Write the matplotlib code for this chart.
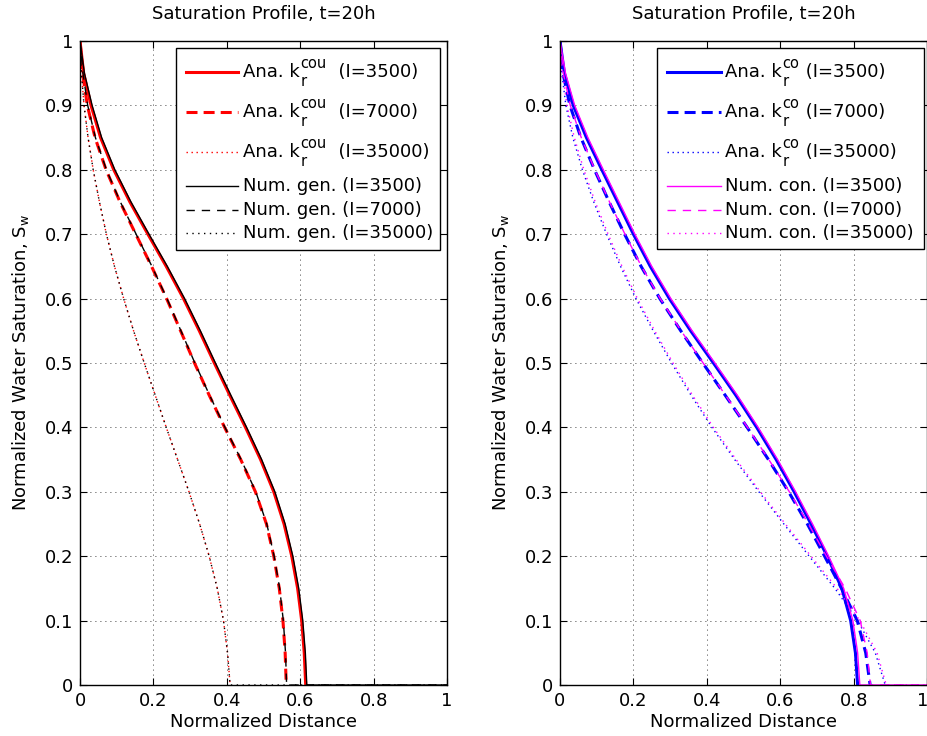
import numpy as np
import matplotlib
matplotlib.use("Agg")
import matplotlib.pyplot as plt
import matplotlib.transforms as mtransforms
from matplotlib.lines import Line2D
from matplotlib.patches import Rectangle

plt.rcParams["font.family"] = ["DejaVu Sans"]
plt.rcParams["mathtext.fontset"] = "dejavusans"

W, H = 928, 736

# saturation levels at which the profiles were read
sw = np.array([1.0, 0.95, 0.9, 0.85, 0.8, 0.75, 0.7, 0.65, 0.6, 0.55, 0.5,
               0.45, 0.4, 0.35, 0.3, 0.25, 0.2, 0.15, 0.1, 0.05, 0.0])

# left panel: analytic (kr cou) and numerical (general)
ana_cou_3500 = [0.0, 0.01, 0.03, 0.056, 0.092, 0.136, 0.185, 0.235, 0.282, 0.325, 0.366,
                0.408, 0.451, 0.492, 0.528, 0.556, 0.577, 0.593, 0.604, 0.611, 0.615]
ana_cou_7000 = [0.0, 0.007, 0.02, 0.041, 0.071, 0.109, 0.152, 0.195, 0.236, 0.274, 0.312,
                0.352, 0.394, 0.438, 0.478, 0.508, 0.528, 0.543, 0.553, 0.559, 0.562]
ana_cou_35000 = [0.0, 0.004, 0.011, 0.022, 0.036, 0.053, 0.072, 0.094, 0.119, 0.146, 0.175,
                 0.205, 0.235, 0.266, 0.297, 0.326, 0.352, 0.374, 0.391, 0.402, 0.409]
num_gen_3500 = [0.0, 0.012, 0.033, 0.059, 0.095, 0.139, 0.188, 0.238, 0.285, 0.328, 0.369,
                0.411, 0.454, 0.495, 0.531, 0.559, 0.58, 0.596, 0.607, 0.614, 0.618]
num_gen_7000 = [0.0, 0.008, 0.021, 0.042, 0.072, 0.11, 0.153, 0.196, 0.237, 0.275, 0.313,
                0.353, 0.395, 0.439, 0.479, 0.509, 0.529, 0.544, 0.554, 0.56, 0.563]
num_gen_35000 = [0.0, 0.004, 0.011, 0.022, 0.036, 0.053, 0.072, 0.094, 0.119, 0.146, 0.175,
                 0.205, 0.235, 0.266, 0.297, 0.326, 0.352, 0.374, 0.391, 0.402, 0.409]

# right panel: analytic (kr co) and numerical (conventional)
ana_co_3500 = [0.0, 0.012, 0.036, 0.072, 0.114, 0.157, 0.2, 0.246, 0.298, 0.356, 0.418,
               0.479, 0.536, 0.589, 0.638, 0.684, 0.728, 0.768, 0.792, 0.805, 0.811]
ana_co_7000 = [0.0, 0.008, 0.027, 0.057, 0.094, 0.134, 0.176, 0.221, 0.272, 0.329, 0.389,
               0.45, 0.51, 0.568, 0.623, 0.674, 0.721, 0.767, 0.81, 0.833, 0.845]
ana_co_35000 = [0.0, 0.005, 0.016, 0.035, 0.061, 0.092, 0.127, 0.165, 0.207, 0.254, 0.304,
                0.357, 0.414, 0.476, 0.542, 0.61, 0.679, 0.749, 0.811, 0.859, 0.886]
num_con_3500 = [0.0, 0.015, 0.04, 0.076, 0.118, 0.161, 0.204, 0.25, 0.302, 0.36, 0.422,
                0.483, 0.54, 0.593, 0.642, 0.688, 0.732, 0.773, 0.798, 0.811, 0.817]
num_con_7000 = [0.0, 0.009, 0.028, 0.058, 0.095, 0.135, 0.177, 0.222, 0.273, 0.33, 0.39,
                0.451, 0.511, 0.569, 0.625, 0.677, 0.726, 0.777, 0.818, 0.837, 0.846]
num_con_35000 = [0.0, 0.007, 0.019, 0.039, 0.065, 0.096, 0.131, 0.169, 0.211, 0.258, 0.308,
                 0.361, 0.418, 0.48, 0.546, 0.614, 0.684, 0.755, 0.817, 0.864, 0.889]

# legend labels: (text, superscript, subscript, rest) for the analytic rows
left_labels = [("Ana. k", "cou", "r", "  (I=3500)"),
               ("Ana. k", "cou", "r", "  (I=7000)"),
               ("Ana. k", "cou", "r", "  (I=35000)"),
               "Num. gen. (I=3500)", "Num. gen. (I=7000)", "Num. gen. (I=35000)"]
right_labels = [("Ana. k", "co", "r", " (I=3500)"),
                ("Ana. k", "co", "r", " (I=7000)"),
                ("Ana. k", "co", "r", " (I=35000)"),
                "Num. con. (I=3500)", "Num. con. (I=7000)", "Num. con. (I=35000)"]

FS = 13
FS_SCRIPT = 10.5

fig = plt.figure(figsize=(W / 100, H / 100), dpi=100)
ax1 = fig.add_axes([80 / W, 1 - 685 / H, 367 / W, 644 / H])
ax2 = fig.add_axes([560 / W, 1 - 685 / H, 367 / W, 644 / H])
renderer = fig.canvas.get_renderer()


def styles(c_ana, c_num):
    return [dict(color=c_ana, lw=2.2),
            dict(color=c_ana, lw=2.2, dashes=(3.6, 2.0)),
            dict(color=c_ana, lw=1.0, dashes=(1.0, 2.6)),
            dict(color=c_num, lw=1.0),
            dict(color=c_num, lw=1.0, dashes=(6.0, 5.0)),
            dict(color=c_num, lw=1.0, dashes=(1.0, 3.2))]


def fx(px):
    return px / W


def fy(px):
    return 1 - px / H


def text_px(x, y, s, size, va="baseline"):
    t = fig.text(fx(x), fy(y), s, fontsize=size, va=va, ha="left", zorder=7)
    return t.get_window_extent(renderer).x1


def draw_legend(st, labels, box, line_x, tx):
    # legend laid out like the MATLAB one: taller rows for the k_r entries
    rows = [72, 112, 152, 186, 210, 233]
    x0, y0, x1, y1 = box
    fig.add_artist(Rectangle((fx(x0), fy(y1)), fx(x1 - x0), (y1 - y0) / H,
                             transform=fig.transFigure, facecolor="white",
                             edgecolor="black", lw=1.0, zorder=5))
    for s, lab, r in zip(st, labels, rows):
        fig.add_artist(Line2D([fx(line_x[0]), fx(line_x[1])], [fy(r), fy(r)],
                              transform=fig.transFigure, zorder=6, **s))
        if isinstance(lab, tuple):
            base = r + 5
            xe = text_px(tx, base, lab[0], FS)
            xs = text_px(xe + 1, base - 9, lab[1], FS_SCRIPT)
            xb = text_px(xe + 1, base + 9, lab[2], FS_SCRIPT)
            text_px(max(xs, xb), base, lab[3], FS)
        else:
            text_px(tx, r, lab, FS, va="center")


def draw(ax, ana, num, st):
    for x, s in zip(ana, st[:3]):
        ax.plot(x, sw, **s)
    for x, s in zip(num, st[3:]):
        # numerical profiles continue along Sw=0 to the end of the domain
        ax.plot(list(x) + [1.0], list(sw) + [0.0], **s)

    ax.set_xlim(0, 1)
    ax.set_ylim(0, 1)
    ax.set_xticks(np.arange(0, 1.01, 0.2))
    ax.set_xticklabels(["0", "0.2", "0.4", "0.6", "0.8", "1"])
    ax.set_yticks(np.arange(0, 1.01, 0.1))
    ax.set_yticklabels(["0", "0.1", "0.2", "0.3", "0.4", "0.5", "0.6", "0.7", "0.8", "0.9", "1"])
    ax.tick_params(direction="in", top=True, right=True, length=5, width=0.8,
                   labelsize=FS, pad=5)
    ax.grid(True, color="black", lw=0.6, linestyle=(0, (1, 5)))
    for s in ax.spines.values():
        s.set_linewidth(1.0)
    ax.set_title("Saturation Profile, t=20h", fontsize=FS, pad=16)
    ax.set_xlabel("Normalized Distance", fontsize=FS, labelpad=2)
    ax.set_ylabel(r"Normalized Water Saturation, S$_\mathregular{w}$", fontsize=FS, labelpad=10)


st_left = styles("red", "black")
st_right = styles("blue", "magenta")

draw(ax1, [ana_cou_3500, ana_cou_7000, ana_cou_35000],
     [num_gen_3500, num_gen_7000, num_gen_35000], st_left)
draw(ax2, [ana_co_3500, ana_co_7000, ana_co_35000],
     [num_con_3500, num_con_7000, num_con_35000], st_right)

# keep the last x tick label of the right panel inside the image
last = ax2.get_xticklabels()[-1]
last.set_transform(last.get_transform() +
                   mtransforms.ScaledTranslation(-4 / 100, 0, fig.dpi_scale_trans))

draw_legend(st_left, left_labels, (176, 48, 440, 250), (186, 238), 243)
draw_legend(st_right, right_labels, (657, 48, 924, 249), (667, 721), 725)

fig.savefig("out.png", dpi=100)
